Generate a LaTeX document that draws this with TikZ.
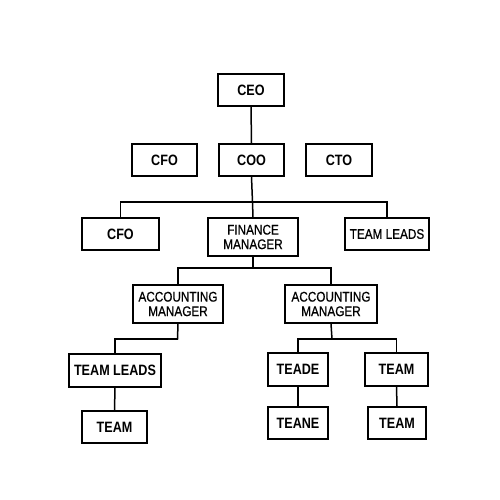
\documentclass[tikz,border=0pt]{standalone}
\usepackage{fontspec}
\setmainfont{Liberation Sans}[FakeStretch=0.84]
\newfontfamily\medfont{Liberation Sans}[FakeStretch=0.84,FakeBold=0.6]
\begin{document}
\begin{tikzpicture}[x=1pt,y=-1pt,
  box/.style={draw=black,line width=1.5pt,fill=white,inner sep=0pt,minimum height=32pt,align=center},
  boldbox/.style={box,font=\fontsize{15}{15}\selectfont\bfseries},
  regbox/.style={box,font=\fontsize{14}{14.5}\selectfont\medfont},
  link/.style={line width=1.5pt,line cap=rect}]
\useasboundingbox (0,0) rectangle (500,500);
% nodes
\node[boldbox,minimum width=66pt] (ceo) at (251,90) {CEO};
\node[boldbox,minimum width=65pt] (cfo) at (164.5,160) {CFO};
\node[boldbox,minimum width=65pt] (coo) at (251.5,160) {COO};
\node[boldbox,minimum width=66pt] (cto) at (339,160) {CTO};
\node[boldbox,minimum width=77pt] (cfob) at (120.5,234) {CFO};
\node[regbox,minimum width=90pt,minimum height=38pt] (fm) at (253,237) {FINANCE\\MANAGER};
\node[regbox,minimum width=84pt] (tla) at (387,234) {TEAM LEADS};
\node[regbox,minimum width=90pt,minimum height=38pt] (ama) at (178,304) {ACCOUNTING\\MANAGER};
\node[regbox,minimum width=92pt,minimum height=38pt] (amb) at (331,304) {ACCOUNTING\\MANAGER};
\node[boldbox,minimum width=92pt,minimum height=33pt] (tlb) at (115,370.5) {TEAM LEADS};
\node[boldbox,minimum width=65pt] (teama) at (114.5,427) {TEAM};
\node[boldbox,minimum width=60pt,minimum height=33pt] (teade) at (298,369.5) {TEADE};
\node[boldbox,minimum width=60pt] (teane) at (298,423) {TEANE};
\node[boldbox,minimum width=63pt,minimum height=33pt] (teamb) at (396.5,369.5) {TEAM};
\node[boldbox,minimum width=58pt] (teamc) at (397,423) {TEAM};
% bus points
\coordinate (b1) at (252.5,202);
\coordinate (b2) at (253,268);
\coordinate (b3) at (177.5,339);
\coordinate (b4) at (332,339);
% connectors
\draw[link] (ceo.south) -- (coo.north);
\draw[link] (coo.south) -- (b1);
\draw[link] (b1) -| (cfob.north);
\draw[link] (b1) -| (tla.north);
\draw[link] (b1) -- (fm.north);
\draw[link] (fm.south) -- (b2);
\draw[link] (b2) -| (ama.north);
\draw[link] (b2) -| (amb.north);
\draw[link] (ama.south) -- (b3);
\draw[link] (b3) -| (tlb.north);
\draw[link] (amb.south) -- (b4);
\draw[link] (b4) -| (teade.north);
\draw[link] (b4) -| (teamb.north);
\draw[link] (tlb.south) -- (teama.north);
\draw[link] (teade.south) -- (teane.north);
\draw[link] (teamb.south) -- (teamc.north);
\end{tikzpicture}
\end{document}
